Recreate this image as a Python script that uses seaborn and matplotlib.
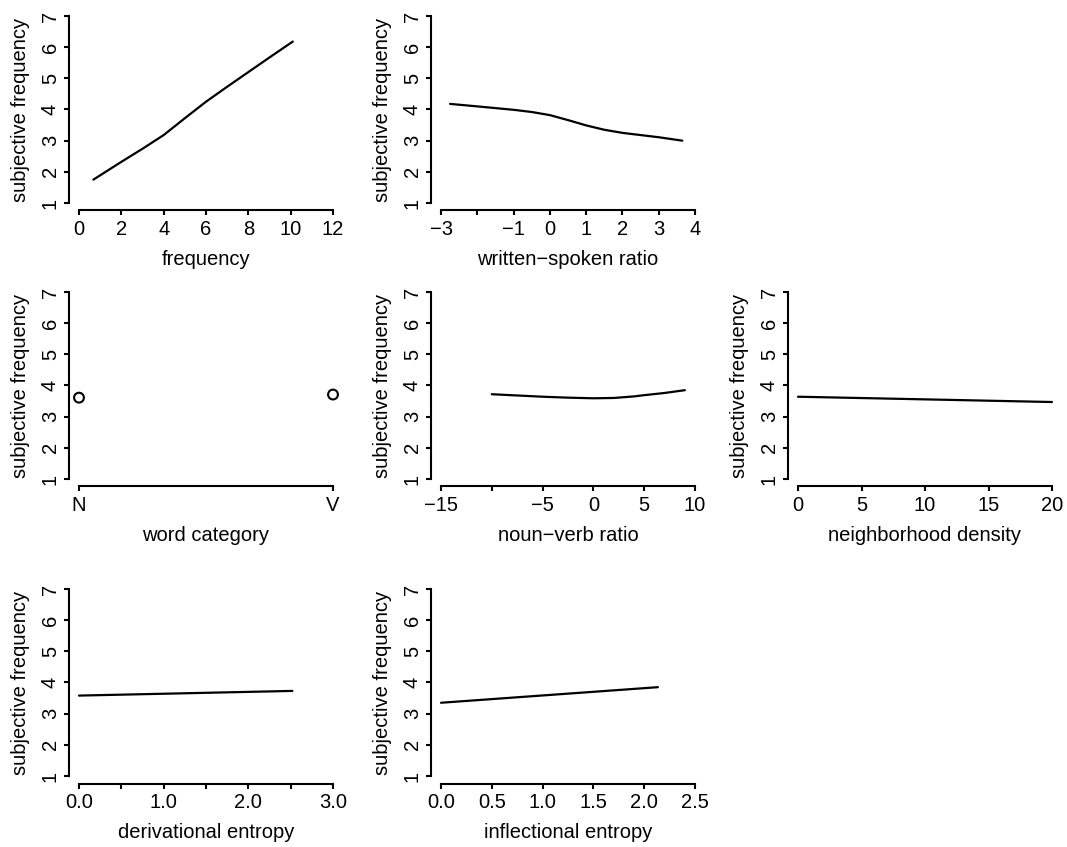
import matplotlib
matplotlib.use("Agg")
import matplotlib.pyplot as plt
import seaborn as sns
import pandas as pd

# ---------------- data ----------------
freq_x = [0.68, 2, 3, 4, 5, 6, 7, 8, 9, 10.1]
freq_y = [1.75, 2.32, 2.74, 3.18, 3.72, 4.25, 4.73, 5.20, 5.67, 6.18]

ws_x = [-2.75, -2, -1, -0.5, 0, 0.5, 1, 1.5, 2, 3, 3.65]
ws_y = [4.18, 4.10, 3.99, 3.92, 3.82, 3.66, 3.49, 3.35, 3.25, 3.11, 3.00]

cat_x = ["N", "V"]
cat_y = [3.61, 3.71]

nv_x = [-10, -7.5, -5, -2.5, 0, 2, 4, 5, 7, 9]
nv_y = [3.72, 3.68, 3.64, 3.61, 3.59, 3.60, 3.65, 3.69, 3.76, 3.85]

nd_x = [0, 20]
nd_y = [3.64, 3.47]

de_x = [0, 2.52]
de_y = [3.58, 3.73]

ie_x = [0, 2.135]
ie_y = [3.35, 3.85]

y_ticks = [1, 2, 3, 4, 5, 6, 7]
y_labels = ["1", "2", "3", "4", "5", "6", "7"]

freq_ticks = [0, 2, 4, 6, 8, 10, 12]
freq_labels = ["0", "2", "4", "6", "8", "10", "12"]
ws_ticks = [-3, -2, -1, 0, 1, 2, 3, 4]
ws_labels = ["\u22123", "", "\u22121", "0", "1", "2", "3", "4"]
cat_ticks = [0, 1]
cat_labels = ["N", "V"]
nv_ticks = [-15, -10, -5, 0, 5, 10]
nv_labels = ["\u221215", "", "\u22125", "0", "5", "10"]
nd_ticks = [0, 5, 10, 15, 20]
nd_labels = ["0", "5", "10", "15", "20"]
de_ticks = [0, 0.5, 1, 1.5, 2, 2.5, 3]
de_labels = ["0.0", "", "1.0", "", "2.0", "", "3.0"]
ie_ticks = [0, 0.5, 1, 1.5, 2, 2.5]
ie_labels = ["0.0", "0.5", "1.0", "1.5", "2.0", "2.5"]

ylab = "subjective frequency"

# ---------------- style ----------------
sns.set_style("ticks")
plt.rcParams['font.family'] = ['Liberation Sans', 'DejaVu Sans']
plt.rcParams['axes.linewidth'] = 1.5
plt.rcParams['xtick.major.width'] = 1.5
plt.rcParams['ytick.major.width'] = 1.5
plt.rcParams['xtick.major.size'] = 3.5
plt.rcParams['ytick.major.size'] = 3.5
plt.rcParams['xtick.color'] = 'black'
plt.rcParams['ytick.color'] = 'black'
plt.rcParams['axes.edgecolor'] = 'black'
plt.rcParams['text.color'] = 'black'
plt.rcParams['axes.labelcolor'] = 'black'

W, H = 1067, 847
fig = plt.figure(figsize=(W / 100, H / 100), dpi=100)

col_left = [69, 431, 788]
row_top = [8.5, 284.5, 581.5]
aw, ah = 274, 202
FS = 14.5


def make_ax(r, c):
    left = col_left[c] / W
    bottom = (H - row_top[r] - ah) / H
    return fig.add_axes([left, bottom, aw / W, ah / H])


def style(ax, xt, xl, xlabel):
    t0, t1 = xt[0], xt[-1]
    m = (t1 - t0) * 10 / 254
    ax.set_xlim(t0 - m, t1 + m)
    ym = 6 * 7.5 / 187
    ax.set_ylim(1 - ym, 7 + ym)
    ax.set_xticks(xt)
    ax.set_xticklabels(xl, fontsize=FS)
    ax.set_yticks(y_ticks)
    ax.set_yticklabels(y_labels, fontsize=FS, rotation=90, va='center')
    ax.spines['top'].set_visible(False)
    ax.spines['right'].set_visible(False)
    ax.spines['left'].set_bounds(1, 7)
    ax.spines['bottom'].set_bounds(t0, t1)
    ax.tick_params(axis='x', pad=3)
    ax.tick_params(axis='y', pad=3)
    ax.set_xlabel(xlabel, fontsize=FS, labelpad=8)
    ax.set_ylabel(ylab, fontsize=FS, labelpad=8)


def line(ax, x, y):
    sns.lineplot(x=x, y=y, ax=ax, color='black', linewidth=1.6, sort=False,
                 estimator=None)


ax = make_ax(0, 0)
line(ax, freq_x, freq_y)
style(ax, freq_ticks, freq_labels, "frequency")

ax = make_ax(0, 1)
line(ax, ws_x, ws_y)
style(ax, ws_ticks, ws_labels, "written\u2212spoken ratio")

ax = make_ax(1, 0)
sns.scatterplot(x=cat_x, y=cat_y, ax=ax, marker='o', s=50,
                facecolors='none', edgecolor='black', linewidth=1.5)
style(ax, cat_ticks, cat_labels, "word category")

ax = make_ax(1, 1)
line(ax, nv_x, nv_y)
style(ax, nv_ticks, nv_labels, "noun\u2212verb ratio")

ax = make_ax(1, 2)
line(ax, nd_x, nd_y)
style(ax, nd_ticks, nd_labels, "neighborhood density")

ax = make_ax(2, 0)
line(ax, de_x, de_y)
style(ax, de_ticks, de_labels, "derivational entropy")

ax = make_ax(2, 1)
line(ax, ie_x, ie_y)
style(ax, ie_ticks, ie_labels, "inflectional entropy")

fig.savefig("out.png", dpi=100)
